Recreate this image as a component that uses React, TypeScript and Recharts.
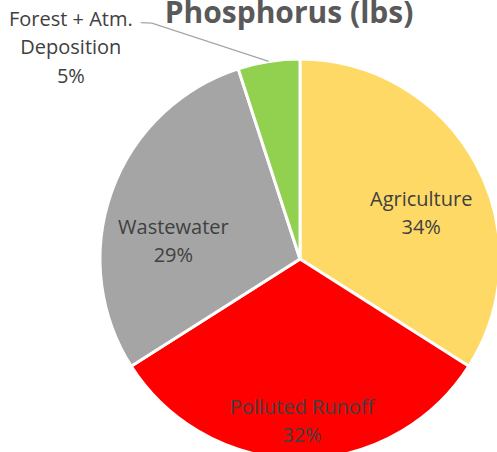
import { Cell, Pie, PieChart } from "recharts";

const categories = ["Agriculture", "Polluted Runoff", "Wastewater", "Forest + Atm. Deposition"];
const shares = [34, 32, 29, 5];
const labelLines = [["Agriculture"], ["Polluted Runoff"], ["Wastewater"], ["Forest + Atm.", "Deposition"]];

const colors = ["#FFD966", "#FF0000", "#A5A5A5", "#92D050"];
// where each data label sits: fraction of the radius and angle nudge off the slice middle
const labelLayout = [
  { frac: 0.65, shift: -7.6 },
  { frac: 0.805, shift: 0.7 },
  { frac: 0.64, shift: 11.3 },
  { frac: 1.564, shift: 38.1 }
];

const data = categories.map((name, i) => ({ name, value: shares[i] }));

const RAD = Math.PI / 180;
const LINE_H = 28.5;

function polar(cx: number, cy: number, r: number, angle: number) {
  return { x: cx + Math.cos(-angle * RAD) * r, y: cy + Math.sin(-angle * RAD) * r };
}

function renderLabel(props: any) {
  const { cx, cy, midAngle, outerRadius, index, percent } = props;
  const layout = labelLayout[index];
  const pos = polar(cx, cy, outerRadius * layout.frac, midAngle + layout.shift);
  const lines = [...labelLines[index], `${Math.round(percent * 100)}%`];
  const top = pos.y - ((lines.length - 1) * LINE_H) / 2;
  const text = (
    <text
      x={pos.x}
      y={top}
      textAnchor="middle"
      dominantBaseline="central"
      fill="#404040"
      style={{ fontFamily: "'Open Sans', sans-serif", fontSize: 20 }}
    >
      {lines.map((l, i) => (
        <tspan key={i} x={pos.x} y={top + i * LINE_H}>
          {l}
        </tspan>
      ))}
    </text>
  );
  if (index !== 3) return <g key={index}>{text}</g>;
  const edge = polar(cx, cy, outerRadius, midAngle);
  const startX = pos.x + 70;
  const startY = top + 5;
  return (
    <g key={index}>
      <polyline
        points={`${startX},${startY} ${startX + 11},${startY + 0.5} ${edge.x},${edge.y}`}
        fill="none"
        stroke="#A6A6A6"
        strokeWidth={1.3}
      />
      {text}
    </g>
  );
}

export default function App() {
  return (
    <div style={{ position: "absolute", left: 0, top: 0, width: 497, height: 452, background: "#fff", overflow: "hidden" }}>
      <div
        style={{
          position: "absolute",
          left: 0,
          width: 578,
          top: -9,
          textAlign: "center",
          fontFamily: "'Open Sans', sans-serif",
          fontWeight: 700,
          fontSize: 30,
          color: "#595959",
          whiteSpace: "nowrap"
        }}
      >
        Phosphorus (lbs)
      </div>
      <PieChart width={497} height={452} margin={{ top: 0, right: 0, bottom: 0, left: 0 }}>
        <Pie
          data={data}
          dataKey="value"
          nameKey="name"
          cx={300}
          cy={259}
          outerRadius={200}
          startAngle={90}
          endAngle={-270}
          stroke="#FFFFFF"
          strokeWidth={3}
          label={renderLabel}
          labelLine={false}
          isAnimationActive={false}
        >
          {data.map((d, i) => (
            <Cell key={d.name} fill={colors[i]} />
          ))}
        </Pie>
      </PieChart>
    </div>
  );
}
